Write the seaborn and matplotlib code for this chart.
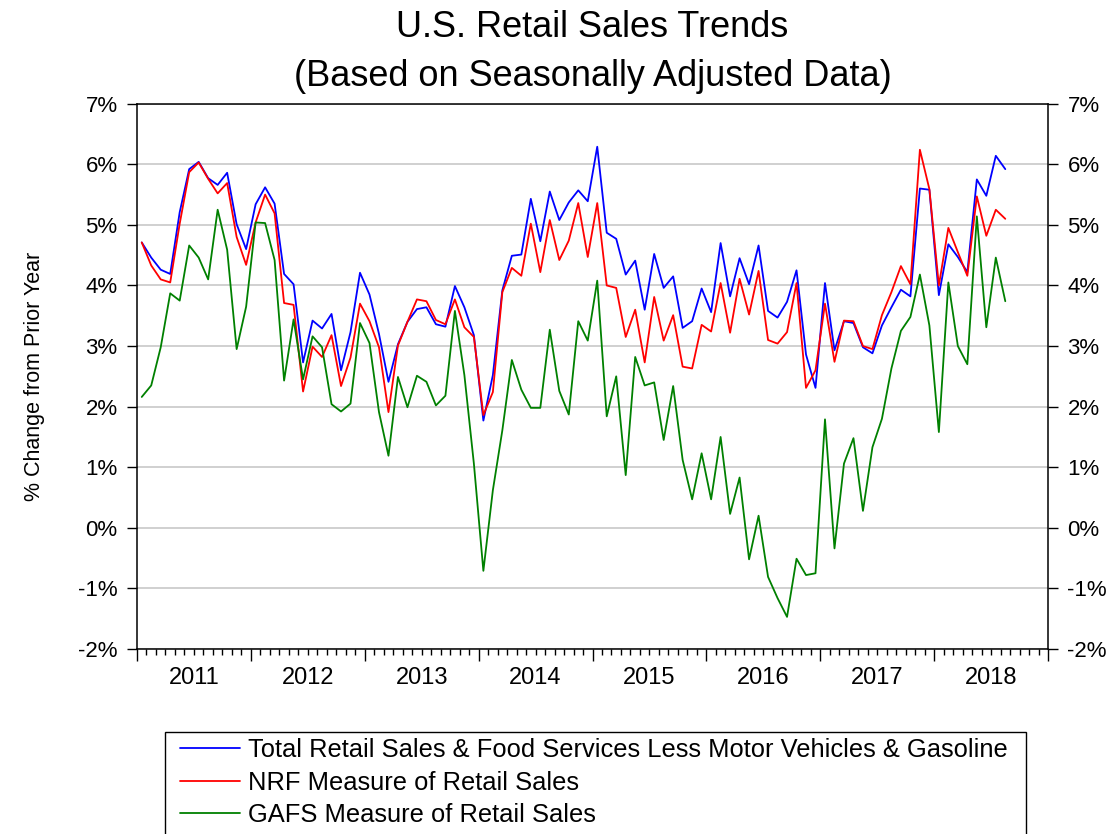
import numpy as np
import pandas as pd
import matplotlib
matplotlib.use("Agg")
import matplotlib.pyplot as plt
import seaborn as sns
from matplotlib.patches import Rectangle
from matplotlib.ticker import FixedLocator, FuncFormatter, NullFormatter

# ---------------- data (monthly, Jan 2011 - Aug 2018) ----------------
dates = pd.date_range("2011-01-01", periods=92, freq="MS")

total = [4.71, 4.46, 4.26, 4.19, 5.21, 5.92, 6.04, 5.77, 5.66, 5.86, 5.01, 4.60,
         5.34, 5.62, 5.35, 4.19, 4.02, 2.73, 3.42, 3.29, 3.53, 2.60, 3.23, 4.21,
         3.85, 3.20, 2.41, 3.03, 3.40, 3.61, 3.64, 3.36, 3.32, 3.99, 3.64, 3.18,
         1.77, 2.52, 3.92, 4.49, 4.51, 5.43, 4.73, 5.55, 5.08, 5.37, 5.57, 5.39,
         6.29, 4.87, 4.77, 4.18, 4.41, 3.60, 4.52, 3.96, 4.15, 3.30, 3.41, 3.95,
         3.56, 4.70, 3.82, 4.45, 4.02, 4.66, 3.58, 3.47, 3.73, 4.25, 2.86, 2.31,
         4.04, 2.93, 3.41, 3.38, 2.98, 2.88, 3.34, 3.64, 3.93, 3.82, 5.60, 5.58,
         3.84, 4.68, 4.47, 4.22, 5.75, 5.48, 6.14, 5.92]

nrf = [4.71, 4.33, 4.10, 4.05, 5.02, 5.87, 6.03, 5.76, 5.52, 5.69, 4.80, 4.34,
       5.04, 5.50, 5.19, 3.71, 3.68, 2.25, 2.99, 2.82, 3.18, 2.34, 2.81, 3.70,
       3.41, 2.98, 1.91, 3.01, 3.40, 3.77, 3.74, 3.43, 3.36, 3.77, 3.31, 3.15,
       1.86, 2.24, 3.89, 4.29, 4.16, 5.02, 4.22, 5.08, 4.42, 4.74, 5.36, 4.47,
       5.36, 4.00, 3.96, 3.15, 3.60, 2.73, 3.81, 3.09, 3.51, 2.66, 2.63, 3.35,
       3.24, 4.04, 3.22, 4.11, 3.52, 4.24, 3.10, 3.04, 3.23, 4.04, 2.31, 2.60,
       3.70, 2.74, 3.42, 3.41, 3.00, 2.95, 3.51, 3.89, 4.32, 4.02, 6.24, 5.59,
       4.00, 4.95, 4.55, 4.16, 5.47, 4.82, 5.25, 5.10]

gafs = [2.16, 2.35, 2.98, 3.87, 3.75, 4.66, 4.46, 4.10, 5.25, 4.59, 2.95, 3.65,
        5.04, 5.03, 4.42, 2.43, 3.44, 2.45, 3.16, 2.98, 2.04, 1.92, 2.05, 3.38,
        3.05, 1.91, 1.19, 2.49, 1.99, 2.51, 2.41, 2.02, 2.18, 3.58, 2.52, 1.06,
        -0.71, 0.62, 1.61, 2.77, 2.28, 1.98, 1.98, 3.27, 2.26, 1.87, 3.41, 3.09,
        4.08, 1.84, 2.50, 0.87, 2.82, 2.35, 2.40, 1.45, 2.34, 1.12, 0.47, 1.23,
        0.47, 1.50, 0.23, 0.83, -0.52, 0.20, -0.81, -1.16, -1.47, -0.51, -0.78, -0.75,
        1.79, -0.34, 1.06, 1.48, 0.28, 1.33, 1.80, 2.63, 3.25, 3.48, 4.18, 3.34,
        1.58, 4.05, 3.00, 2.70, 5.14, 3.31, 4.46, 3.74]

series_names = ["Total Retail Sales & Food Services Less Motor Vehicles & Gasoline",
                "NRF Measure of Retail Sales",
                "GAFS Measure of Retail Sales"]
series_colors = ["#0000ff", "#ff0000", "#008000"]
year_labels = [str(y) for y in range(2011, 2019)]
title_text = "U.S. Retail Sales Trends\n(Based on Seasonally Adjusted Data)"
ylabel_text = "% Change from Prior Year"

# ---------------- long table ----------------
wide = pd.DataFrame({"date": dates, series_names[0]: total,
                     series_names[1]: nrf, series_names[2]: gafs})
df = wide.melt(id_vars="date", var_name="series", value_name="value")
# position of each month at the centre of its monthly slot (months since Jan 2011)
df["month"] = (df["date"].dt.year - 2011) * 12 + (df["date"].dt.month - 1) + 0.5

# ---------------- style ----------------
sns.set_theme(style="white")
plt.rcParams["font.family"] = ["Liberation Sans", "DejaVu Sans"]
plt.rcParams["text.color"] = "black"
plt.rcParams["axes.labelcolor"] = "black"
plt.rcParams["xtick.color"] = "black"
plt.rcParams["ytick.color"] = "black"

W, H = 1114, 834
fig = plt.figure(figsize=(W / 100, H / 100), dpi=100)
L, R, T, B = 137, 1048, 103.7, 649
ax = fig.add_axes([L / W, 1 - B / H, (R - L) / W, (B - T) / H])

sns.lineplot(data=df, x="month", y="value", hue="series", hue_order=series_names,
             palette=series_colors, linewidth=1.3, ax=ax, legend=False)

ax.set_xlim(0, 96)
ax.set_ylim(-2, 7)
ax.set_xlabel("")
ax.set_ylabel(ylabel_text, fontsize=15.5, labelpad=24, color="black")

for s in ax.spines.values():
    s.set_color("black")
    s.set_linewidth(1.1)

ax.grid(axis="y", color="#c8c8c8", linewidth=1.2)
ax.grid(axis="x", visible=False)
ax.set_axisbelow(True)

# y ticks on both sides
ax.yaxis.set_major_locator(FixedLocator(np.arange(-2, 8, 1)))
ax.yaxis.set_major_formatter(FuncFormatter(lambda v, p: f"{int(round(v))}%"))
ax.tick_params(axis="y", which="major", direction="out", length=7, width=1.0,
               color="black", labelcolor="black", labelsize=16, left=True, right=True,
               labelleft=True, labelright=True, pad=7)

# x ticks: year boundaries (long), months (short)
ax.xaxis.set_major_locator(FixedLocator(np.arange(0, 97, 12)))
ax.xaxis.set_minor_locator(FixedLocator(np.arange(0, 97, 1)))
ax.xaxis.set_major_formatter(NullFormatter())
ax.tick_params(axis="x", which="major", direction="out", length=8.5, width=1.0,
               color="black", bottom=True, top=False)
ax.tick_params(axis="x", which="minor", direction="out", length=4.5, width=1.0,
               color="black", bottom=True, top=False)

sec = ax.secondary_xaxis("bottom")
sec.set_xticks(np.arange(6, 96, 12))
sec.set_xticklabels(year_labels)
sec.tick_params(length=0, labelsize=17, pad=13, labelcolor="black")
sec.spines["bottom"].set_visible(False)

# title
fig.text(((L + R) / 2) / W, 1 - 10 / H, title_text, ha="center", va="top",
         fontsize=26, linespacing=1.5, color="black")

# legend
handles = ax.get_lines()[:3]
leg = fig.legend(handles, series_names, loc="upper left",
                 bbox_to_anchor=(180 / W, 1 - 738 / H), frameon=False,
                 fontsize=18.4, handlelength=2.35, handletextpad=0.3,
                 labelspacing=0.34, borderpad=0, borderaxespad=0)
for t in leg.get_texts():
    t.set_color("black")
for h in leg.legend_handles:
    h.set_linewidth(1.3)
fig.patches.append(Rectangle((165 / W, -0.05), (1026 - 165) / W, (1 - 731.5 / H) + 0.05,
                             transform=fig.transFigure, fill=False,
                             edgecolor="black", linewidth=1.0))

fig.savefig("out.png", dpi=100)
